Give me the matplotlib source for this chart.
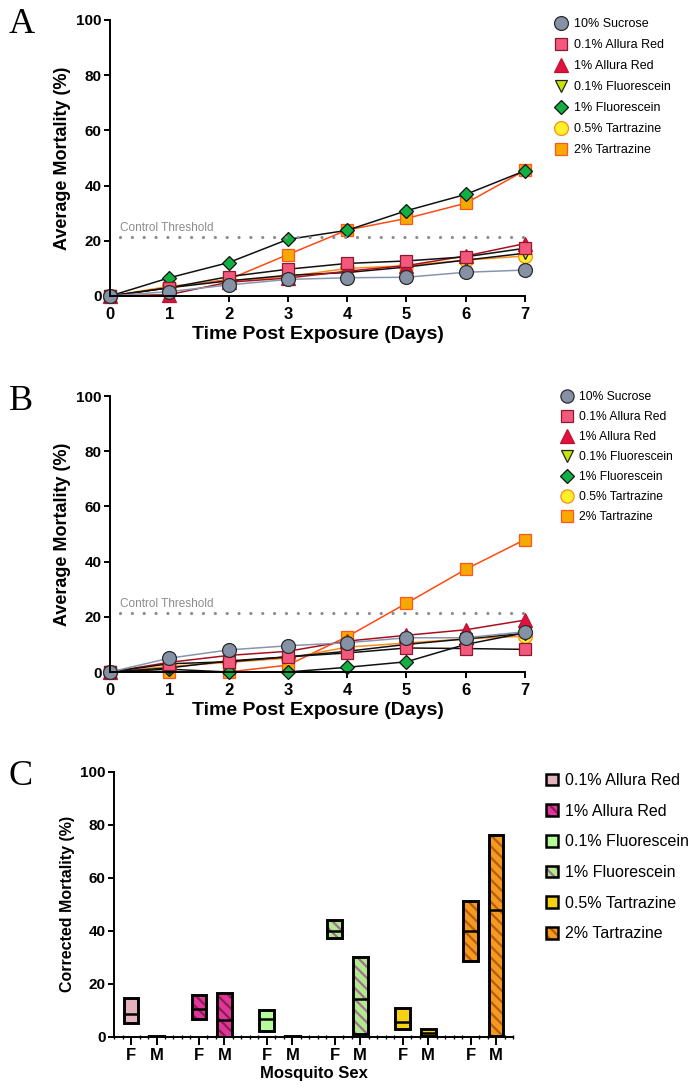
import matplotlib
matplotlib.use("Agg")
import matplotlib.pyplot as plt
from matplotlib.lines import Line2D
from matplotlib.patches import Patch
from matplotlib.legend_handler import HandlerTuple
from matplotlib.ticker import MultipleLocator

plt.rcParams['font.family'] = ['Liberation Sans', 'DejaVu Sans']
plt.rcParams['hatch.linewidth'] = 1.6

# --- datos ---
days = [0, 1, 2, 3, 4, 5, 6, 7]
labels = ["10% Sucrose", "0.1% Allura Red", "1% Allura Red", "0.1% Fluorescein",
          "1% Fluorescein", "0.5% Tartrazine", "2% Tartrazine"]

sucrose_a = [0, 1.6, 4.0, 6.0, 6.6, 6.8, 8.6, 9.4]
allura01_a = [0, 3.0, 7.0, 9.7, 11.8, 12.7, 14.2, 17.3]
allura1_a = [0, 0.5, 5.0, 6.5, 9.0, 11.0, 14.5, 19.0]
fluor01_a = [0, 3.0, 5.5, 7.5, 8.5, 10.5, 13.0, 15.5]
fluor1_a = [0, 6.6, 12.1, 20.5, 23.8, 30.9, 36.8, 45.4]
tart05_a = [0, 3.5, 5.5, 7.0, 10.0, 11.0, 13.0, 14.5]
tart2_a = [0, 3.0, 6.0, 15.0, 23.9, 28.1, 33.6, 45.5]

sucrose_b = [0, 5.0, 8.0, 9.5, 10.6, 12.4, 12.4, 14.6]
allura01_b = [0, 3.0, 3.7, 5.5, 6.9, 8.7, 8.5, 8.2]
allura1_b = [0, 3.5, 6.0, 7.5, 11.2, 13.3, 15.3, 18.8]
fluor01_b = [0, 1.5, 4.0, 5.5, 7.5, 10.0, 12.0, 14.0]
fluor1_b = [0, 1.0, 0, 0, 1.7, 3.7, 10.0, 14.2]
tart05_b = [0, 2.0, 3.5, 5.0, 9.0, 10.5, 12.0, 13.0]
tart2_b = [0, 0, 0, 2.5, 12.8, 24.9, 37.2, 48.0]

control_threshold = 21.3

groups = ["0.1% Allura Red", "1% Allura Red", "0.1% Fluorescein",
          "1% Fluorescein", "0.5% Tartrazine", "2% Tartrazine"]
f_low = [5.4, 6.6, 2.2, 37.2, 3.1, 28.7]
f_med = [8.6, 10.7, 6.9, 39.9, 5.5, 39.9]
f_high = [14.8, 15.7, 10.2, 44.0, 11.1, 51.1]
m_low = [0, 0, 0, 1.0, 0.3, 0.3]
m_med = [0, 6.3, 0, 14.5, 1.5, 47.8]
m_high = [0.5, 16.4, 0.5, 30.2, 3.1, 76.0]

# estilos de cada serie: marcador, relleno, borde, color de linea, tamaño
styles = [
    ('o', '#8591a5', '#2b2b2b', '#8796ad', 10.0),
    ('s', '#f4587c', '#8a1a2c', '#111111', 8.8),
    ('^', '#e0103f', '#c0102a', '#a8101f', 10.0),
    ('v', '#c9e400', '#222222', '#111111', 9.0),
    ('D', '#12b043', '#111111', '#111111', 7.2),
    ('o', '#fff22a', '#ff8c10', '#ff8c1a', 10.0),
    ('s', '#f6a900', '#ff5520', '#ff4a12', 8.8),
]


def style_axes(ax, xfs=12, yfs=11):
    for s in ['top', 'right']:
        ax.spines[s].set_visible(False)
    for s in ['left', 'bottom']:
        ax.spines[s].set_linewidth(1.4)
    ax.tick_params(direction='out', length=4, width=1.4, pad=2)
    ax.tick_params(axis='x', pad=4)
    for lab in ax.get_xticklabels():
        lab.set_fontweight('bold')
        lab.set_fontsize(xfs)
    for lab in ax.get_yticklabels():
        lab.set_fontweight('bold')
        lab.set_fontsize(yfs)


def line_panel(ax, series):
    # se dibuja al reves para que los primeros queden arriba
    for vals, st in reversed(list(zip(series, styles))):
        m, fc, ec, lc, ms = st
        ax.plot(days, vals, color=lc, lw=1.1, marker=m, markersize=ms,
                markerfacecolor=fc, markeredgecolor=ec, markeredgewidth=0.9,
                clip_on=False)
    ax.plot([0.17, 7], [control_threshold, control_threshold], color='#8c8c8c',
            lw=2.3, linestyle=(0, (0.01, 3.7)), dash_capstyle='round')
    ax.text(0.17, control_threshold + 1.0, "Control Threshold", color='#8c8c8c',
            fontsize=8.5, va='bottom', ha='left')
    ax.set_xlim(0, 7)
    ax.set_ylim(0, 100)
    ax.set_xticks(days)
    ax.set_yticks([0, 20, 40, 60, 80, 100])
    ax.set_xlabel("Time Post Exposure (Days)", fontsize=14, fontweight='bold', labelpad=3)
    ax.set_ylabel("Average Mortality (%)", fontsize=13, fontweight='bold', labelpad=4)
    style_axes(ax)


def line_legend(fig, x, y, fs, ms_scale, spacing):
    handles = []
    for m, fc, ec, lc, ms in styles:
        handles.append(Line2D([], [], linestyle='none', marker=m, markersize=ms * ms_scale,
                              markerfacecolor=fc, markeredgecolor=ec, markeredgewidth=0.9))
    fig.legend(handles, labels, loc='upper left', bbox_to_anchor=(x, y), frameon=False,
               fontsize=fs, labelspacing=spacing, handletextpad=0.5, handlelength=1.0,
               borderaxespad=0, borderpad=0)


fig = plt.figure(figsize=(6.95, 10.91), dpi=100)
W, H = 695, 1091

axA = fig.add_axes([110 / W, 1 - 296 / H, 415 / W, 276 / H])
line_panel(axA, [sucrose_a, allura01_a, allura1_a, fluor01_a, fluor1_a, tart05_a, tart2_a])
line_legend(fig, 555 / W, 1 - 18 / H, 9.0, 1.0, 0.72)

axB = fig.add_axes([110 / W, 1 - 672 / H, 415 / W, 276 / H])
line_panel(axB, [sucrose_b, allura01_b, allura1_b, fluor01_b, fluor1_b, tart05_b, tart2_b])
line_legend(fig, 561 / W, 1 - 391 / H, 8.7, 0.95, 0.66)

# --- panel C ---
fills = ['#e3b3bd', '#e0359d', '#b6fb9a', '#b2e98c', '#f6d10f', '#f7981f']
hatches = [None, '\\\\\\', None, '\\\\\\', None, '\\\\\\']
hatch_cols = ['#e3b3bd', '#8e1c4c', '#b6fb9a', '#a0708e', '#f6d10f', '#b05e10']

axC = fig.add_axes([114 / W, 1 - 1037 / H, 399 / W, 265.5 / H])
bw = 0.58
xf = [i * 8 / 3 for i in range(6)]
xm = [x + 1 for x in xf]
handles_c = []
for i in range(6):
    for x, lo, md, hi in [(xf[i], f_low[i], f_med[i], f_high[i]),
                          (xm[i], m_low[i], m_med[i], m_high[i])]:
        axC.bar(x, hi - lo, bottom=lo, width=bw, color=fills[i], hatch=hatches[i],
                edgecolor=hatch_cols[i], linewidth=0, zorder=2)
        axC.bar(x, hi - lo, bottom=lo, width=bw, fill=False, edgecolor='black',
                linewidth=2.1, zorder=3)
        axC.plot([x - bw / 2, x + bw / 2], [md, md], color='black', lw=1.8, zorder=4)
    p1 = Patch(facecolor=fills[i], hatch=hatches[i], edgecolor=hatch_cols[i], linewidth=0)
    p2 = Patch(fill=False, edgecolor='black', linewidth=1.8)
    handles_c.append((p1, p2))

axC.set_xlim(-0.67, 15.0)
axC.set_ylim(0, 100)
axC.set_yticks([0, 20, 40, 60, 80, 100])
axC.set_xticks(xf + xm)
axC.set_xticklabels(['F'] * 6 + ['M'] * 6)
axC.xaxis.set_minor_locator(MultipleLocator(1 / 3))
axC.tick_params(axis='x', which='minor', direction='inout', length=3, width=1.0)
axC.set_xlabel("Mosquito Sex", fontsize=12, fontweight='bold', labelpad=2)
axC.set_ylabel("Corrected Mortality (%)", fontsize=11.5, fontweight='bold', labelpad=4)
style_axes(axC, xfs=12, yfs=11)
axC.tick_params(axis='x', which='major', length=6, pad=2)

fig.legend(handles_c, groups, handler_map={tuple: HandlerTuple(ndivide=1)},
           loc='upper left', bbox_to_anchor=(546 / W, 1 - 773 / H), frameon=False,
           fontsize=11.5, labelspacing=0.98, handletextpad=0.45, handlelength=0.75,
           handleheight=0.75, borderaxespad=0, borderpad=0)

# letras de panel
for letter, ytop in [("A", 8), ("B", 385), ("C", 760)]:
    fig.text(9 / W, 1 - ytop / H, letter, family=['Liberation Serif', 'DejaVu Serif'],
             fontsize=26, va='top', ha='left')

fig.savefig("out.png", dpi=100)
